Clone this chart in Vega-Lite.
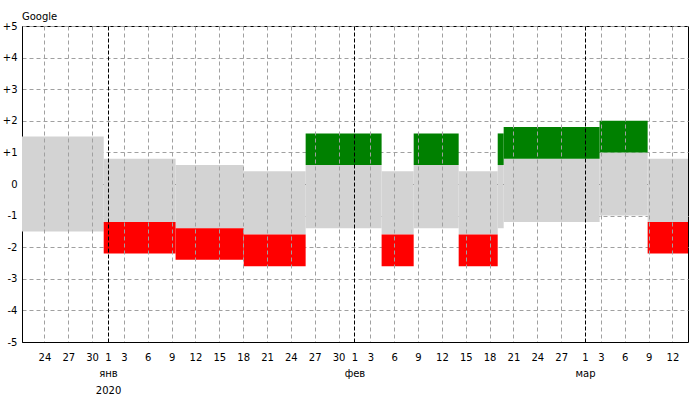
{
  "$schema": "https://vega.github.io/schema/vega-lite/v6.json",
  "width": 666,
  "height": 316,
  "autosize": {"type": "none"},
  "padding": {"left": 22, "top": 26, "right": 12, "bottom": 58},
  "background": "white",
  "title": {"text": "Google", "anchor": "start", "frame": "group", "fontSize": 10, "font": "DejaVu Sans", "fontWeight": "normal", "color": "black", "baseline": "alphabetic", "offset": 8, "dy": 17},
  "config": {
    "view": {"stroke": "black", "strokeWidth": 1},
    "font": "DejaVu Sans",
    "axisY": {
      "title": null,
      "values": [-5, -4, -3, -2, -1, 0, 1, 2, 3, 4, 5],
      "ticks": false,
      "labelPadding": 5,
      "labelFontSize": 10,
      "labelFont": "DejaVu Sans",
      "labelColor": "black",
      "domainColor": "black",
      "domainWidth": 1,
      "grid": true,
      "gridWidth": 1,
      "gridOpacity": 1,
      "zindex": 1
    }
  },
  "data": {"values": [
    {"start": "2019-12-21T04:20:00Z", "end": "2019-12-31T11:00:00Z", "lo": -1.5, "hi": 1.5, "dir": null, "b1": null, "b2": null},
    {"start": "2019-12-31T11:00:00Z", "end": "2020-01-09T12:00:00Z", "lo": -1.2, "hi": 0.8, "dir": "down", "b1": -1.2, "b2": -2.2},
    {"start": "2020-01-09T12:00:00Z", "end": "2020-01-18T01:40:00Z", "lo": -1.4, "hi": 0.6, "dir": "down", "b1": -1.4, "b2": -2.4},
    {"start": "2020-01-18T01:40:00Z", "end": "2020-01-25T20:40:00Z", "lo": -1.6, "hi": 0.4, "dir": "down", "b1": -1.6, "b2": -2.6},
    {"start": "2020-01-25T20:40:00Z", "end": "2020-02-04T10:00:00Z", "lo": -1.4, "hi": 0.6, "dir": "up", "b1": 0.6, "b2": 1.6},
    {"start": "2020-02-04T10:00:00Z", "end": "2020-02-08T10:50:00Z", "lo": -1.6, "hi": 0.4, "dir": "down", "b1": -1.6, "b2": -2.6},
    {"start": "2020-02-08T10:50:00Z", "end": "2020-02-14T02:40:00Z", "lo": -1.4, "hi": 0.6, "dir": "up", "b1": 0.6, "b2": 1.6},
    {"start": "2020-02-14T02:40:00Z", "end": "2020-02-19T00:30:00Z", "lo": -1.6, "hi": 0.4, "dir": "down", "b1": -1.6, "b2": -2.6},
    {"start": "2020-02-19T00:30:00Z", "end": "2020-02-19T18:30:00Z", "lo": -1.4, "hi": 0.6, "dir": "up", "b1": 0.6, "b2": 1.6},
    {"start": "2020-02-19T18:30:00Z", "end": "2020-03-02T20:10:00Z", "lo": -1.2, "hi": 0.8, "dir": "up", "b1": 0.8, "b2": 1.8},
    {"start": "2020-03-02T20:10:00Z", "end": "2020-03-08T21:10:00Z", "lo": -1.0, "hi": 1.0, "dir": "up", "b1": 1.0, "b2": 2.0},
    {"start": "2020-03-08T21:10:00Z", "end": "2020-03-13T23:00:00Z", "lo": -1.2, "hi": 0.8, "dir": "down", "b1": -1.2, "b2": -2.2}
  ]},
  "encoding": {
    "x": {
      "field": "start",
      "type": "temporal",
      "scale": {"type": "utc", "domain": [
        {"year": 2019, "month": 12, "date": 21, "hours": 4, "minutes": 20, "utc": true},
        {"year": 2020, "month": 3, "date": 13, "hours": 23, "utc": true}
      ]},
      "axis": {
        "title": null,
        "values": [
          {"year": 2019, "month": 12, "date": 24, "utc": true},
          {"year": 2019, "month": 12, "date": 27, "utc": true},
          {"year": 2019, "month": 12, "date": 30, "utc": true},
          {"year": 2020, "month": 1, "date": 1, "utc": true},
          {"year": 2020, "month": 1, "date": 3, "utc": true},
          {"year": 2020, "month": 1, "date": 6, "utc": true},
          {"year": 2020, "month": 1, "date": 9, "utc": true},
          {"year": 2020, "month": 1, "date": 12, "utc": true},
          {"year": 2020, "month": 1, "date": 15, "utc": true},
          {"year": 2020, "month": 1, "date": 18, "utc": true},
          {"year": 2020, "month": 1, "date": 21, "utc": true},
          {"year": 2020, "month": 1, "date": 24, "utc": true},
          {"year": 2020, "month": 1, "date": 27, "utc": true},
          {"year": 2020, "month": 1, "date": 30, "utc": true},
          {"year": 2020, "month": 2, "date": 1, "utc": true},
          {"year": 2020, "month": 2, "date": 3, "utc": true},
          {"year": 2020, "month": 2, "date": 6, "utc": true},
          {"year": 2020, "month": 2, "date": 9, "utc": true},
          {"year": 2020, "month": 2, "date": 12, "utc": true},
          {"year": 2020, "month": 2, "date": 15, "utc": true},
          {"year": 2020, "month": 2, "date": 18, "utc": true},
          {"year": 2020, "month": 2, "date": 21, "utc": true},
          {"year": 2020, "month": 2, "date": 24, "utc": true},
          {"year": 2020, "month": 2, "date": 27, "utc": true},
          {"year": 2020, "month": 3, "date": 1, "utc": true},
          {"year": 2020, "month": 3, "date": 3, "utc": true},
          {"year": 2020, "month": 3, "date": 6, "utc": true},
          {"year": 2020, "month": 3, "date": 9, "utc": true},
          {"year": 2020, "month": 3, "date": 12, "utc": true}
        ],
        "labelExpr": "utcdate(datum.value) === 1 ? (utcmonth(datum.value) === 0 ? ['1', 'янв', '2020'] : (utcmonth(datum.value) === 1 ? ['1', 'фев'] : ['1', 'мар'])) : '' + utcdate(datum.value)",
        "ticks": false,
        "labelPadding": 10,
        "labelFontSize": 10,
        "labelFont": "DejaVu Sans",
        "labelColor": "black",
        "labelLineHeight": 16.5,
        "labelOverlap": false,
        "labelFlush": false,
        "labelBound": false,
        "labelAlign": "center",
        "labelBaseline": "top",
        "domainColor": "black",
        "domainWidth": 1,
        "grid": true,
        "gridColor": {"condition": {"test": "utcdate(datum.value) === 1", "value": "black"}, "value": "#a0a0a0"},
        "gridDash": {"condition": {"test": "utcdate(datum.value) === 1", "value": [4, 2]}, "value": [4, 3]},
        "gridWidth": 1,
        "gridOpacity": 1,
        "zindex": 1
      }
    },
    "x2": {"field": "end"}
  },
  "layer": [
    {
      "mark": {"type": "rect", "color": "#d3d3d3"},
      "encoding": {
        "y": {
          "field": "lo",
          "type": "quantitative",
          "scale": {"domain": [-5, 5], "nice": false, "zero": false},
          "axis": {
            "labelExpr": "datum.value > 0 ? '+' + datum.value : '' + datum.value",
            "gridColor": {"condition": {"test": "datum.value === 0", "value": "black"}, "value": "#a0a0a0"},
            "gridDash": {"condition": {"test": "datum.value === 0", "value": [4, 2]}, "value": [4, 3]}
          }
        },
        "y2": {"field": "hi"}
      }
    },
    {
      "transform": [{"filter": "datum.b1 != null"}],
      "mark": {"type": "rect"},
      "encoding": {
        "y": {
          "field": "b1",
          "type": "quantitative",
          "axis": {
            "labelExpr": "datum.value > 0 ? '+' + datum.value : '' + datum.value",
            "gridColor": {"condition": {"test": "datum.value === 0", "value": "black"}, "value": "#a0a0a0"},
            "gridDash": {"condition": {"test": "datum.value === 0", "value": [4, 2]}, "value": [4, 3]}
          }
        },
        "y2": {"field": "b2"},
        "color": {"field": "dir", "type": "nominal", "scale": {"domain": ["down", "up"], "range": ["#ff0000", "#008000"]}, "legend": null}
      }
    }
  ]
}
